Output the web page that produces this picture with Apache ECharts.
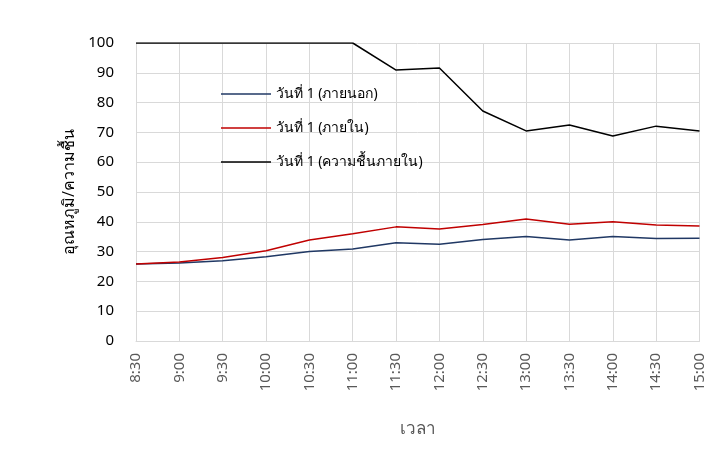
<!DOCTYPE html>
<html>
<head>
<meta charset="utf-8">
<script src="https://cdn.jsdelivr.net/npm/echarts@6/dist/echarts.min.js"></script>
<style>
  html, body { margin: 0; padding: 0; background: #fff; }
  #chart { width: 707px; height: 450px; }
</style>
</head>
<body>
<div id="chart"></div>
<script>
var times = ['8:30', '9:00', '9:30', '10:00', '10:30', '11:00', '11:30', '12:00', '12:30', '13:00', '13:30', '14:00', '14:30', '15:00'];
var outside = [25.8, 26.2, 26.9, 28.3, 30.0, 30.9, 33.0, 32.5, 34.1, 35.1, 33.9, 35.1, 34.4, 34.5];
var inside = [25.8, 26.5, 28.0, 30.3, 33.9, 36.0, 38.3, 37.6, 39.1, 40.9, 39.2, 40.0, 38.9, 38.6];
var humidity = [100, 100, 100, 100, 100, 100, 90.9, 91.6, 77.2, 70.5, 72.5, 68.8, 72.1, 70.5];

var names = ['วันที่ 1 (ภายนอก)', 'วันที่ 1 (ภายใน)', 'วันที่ 1 (ความชื้นภายใน)'];

var myChart = echarts.init(document.getElementById('chart'));

var option = {
  animation: false,
  textStyle: { fontFamily: '"Noto Sans", sans-serif', color: '#595959' },
  grid: { left: 136, right: 6, top: 43, bottom: 109 },
  legend: {
    orient: 'vertical',
    left: 216,
    top: 79,
    icon: 'rect',
    itemWidth: 50,
    itemHeight: 1.5,
    itemGap: 14,
    textStyle: { fontSize: 14, color: '#000', lineHeight: 20 },
    data: names
  },
  xAxis: {
    type: 'category',
    data: times,
    boundaryGap: false,
    name: 'เวลา',
    nameLocation: 'middle',
    nameGap: 80,
    nameTextStyle: { fontSize: 17, color: '#595959' },
    axisTick: { show: false },
    axisLine: { lineStyle: { color: '#d9d9d9' } },
    axisLabel: { rotate: 90, fontSize: 15, margin: 12, color: '#595959' },
    splitLine: { show: true, lineStyle: { color: '#d9d9d9' } }
  },
  yAxis: {
    type: 'value',
    min: 0,
    max: 100,
    interval: 10,
    name: 'อุณหภูมิ/ความชื้น',
    nameLocation: 'middle',
    nameGap: 58,
    nameTextStyle: { fontSize: 16, color: '#000' },
    axisLine: { show: false },
    axisTick: { show: false },
    axisLabel: { fontSize: 15, margin: 22, color: '#000' },
    splitLine: { lineStyle: { color: '#d9d9d9' } }
  },
  series: [
    { name: names[0], type: 'line', data: outside, symbol: 'none',
      lineStyle: { color: '#203864', width: 1.5 }, itemStyle: { color: '#203864' } },
    { name: names[1], type: 'line', data: inside, symbol: 'none',
      lineStyle: { color: '#c00000', width: 1.5 }, itemStyle: { color: '#c00000' } },
    { name: names[2], type: 'line', data: humidity, symbol: 'none',
      lineStyle: { color: '#000', width: 1.5 }, itemStyle: { color: '#000' } }
  ]
};
myChart.setOption(option);
</script>
</body>
</html>
